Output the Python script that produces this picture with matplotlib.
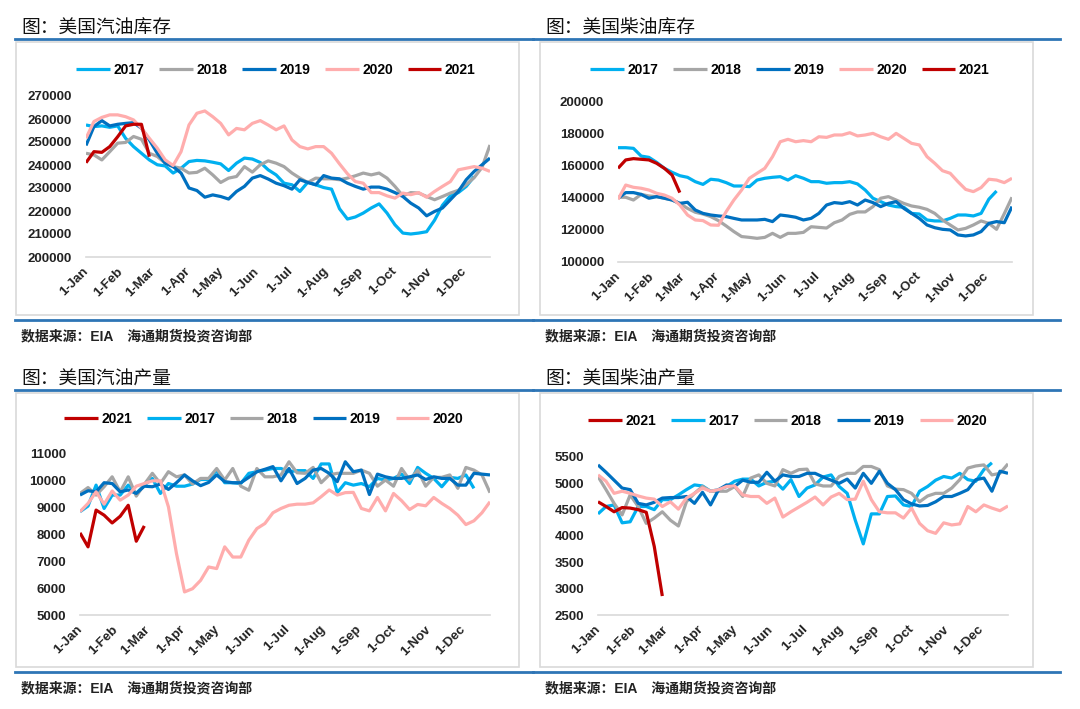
import matplotlib
matplotlib.use("Agg")
import matplotlib.pyplot as plt
from matplotlib.lines import Line2D
from matplotlib.patches import Rectangle

plt.rcParams['font.family'] = ['Liberation Sans', 'Noto Sans CJK SC']

# ---- data (weekly) ----
years = ["2017", "2018", "2019", "2020", "2021"]
month_labels = ["1-Jan", "1-Feb", "1-Mar", "1-Apr", "1-May", "1-Jun",
                "1-Jul", "1-Aug", "1-Sep", "1-Oct", "1-Nov", "1-Dec"]
month_start_day = [0, 31, 59, 90, 120, 151, 181, 212, 243, 273, 304, 334]

gas_stock_2017 = [257400, 256700, 257000, 256400, 257000, 251600, 248000, 245100, 242200, 240100,
                  239600, 236500, 238600, 241500, 242000, 241800, 241200, 240500, 237600, 240800,
                  243000, 242600, 241100, 237900, 235700, 232100, 231400, 228500, 232500, 231400,
                  230200, 229500, 221000, 216500, 217400, 219100, 221300, 223100, 219100, 214000,
                  210400, 210000, 210400, 211000, 216000, 222500, 226600, 228000, 230700, 235000]
gas_stock_2018 = [245100, 244400, 242200, 245800, 249500, 249800, 252400, 251200, 245100, 243700,
                  240800, 239300, 238600, 236500, 236800, 238600, 235700, 232400, 234300, 235000,
                  239300, 236900, 240100, 241800, 240800, 239300, 236500, 234300, 232400, 234300,
                  234000, 234000, 233600, 234300, 235300, 236500, 235700, 236500, 234300, 230700,
                  226600, 228000, 227800, 226300, 224900, 226300, 227800, 229000, 231500, 234500,
                  239000, 248700]
gas_stock_2019 = [248500, 256700, 259300, 257000, 257700, 258100, 258400, 256000, 250900, 245100,
                  240800, 239300, 236500, 230000, 228900, 226000, 227000, 226300, 225200, 228500,
                  230700, 234300, 235400, 233900, 232100, 231000, 229500, 233600, 232400, 231400,
                  235400, 234300, 234000, 232100, 230700, 229500, 230400, 230400, 229500, 228000,
                  226300, 223400, 221300, 217900, 219800, 221300, 224900, 228500, 233600, 237200,
                  240100, 243000]
gas_stock_2020 = [251600, 258900, 260700, 261800, 261800, 261000, 259600, 256000, 251600, 247300,
                  242200, 239800, 245800, 257400, 262500, 263500, 261000, 258100, 253100, 255900,
                  255300, 258100, 259300, 257400, 255300, 257000, 250900, 248000, 247000, 248000,
                  248000, 245100, 240500, 236200, 232800, 232100, 228000, 228000, 226600, 225600,
                  227800, 227100, 228000, 226000, 228500, 230700, 232800, 237900, 238600, 239300,
                  238600, 237200]
gas_stock_2021 = [241000, 245800, 245500, 248000, 252300, 257000, 257700, 257700, 243600]

dsl_stock_2017 = [171000, 171000, 170600, 165800, 165000, 161900, 158200, 155700, 153600, 152600,
                  149900, 148200, 151400, 150900, 149300, 147200, 147200, 146800, 150900, 152000,
                  152600, 153000, 150900, 153600, 152000, 149900, 149900, 148900, 149300, 149300,
                  149900, 148500, 144700, 139600, 137500, 135400, 134400, 134000, 130200, 129800,
                  126100, 125500, 125500, 127100, 129200, 129200, 128600, 130200, 139000, 144100]
dsl_stock_2018 = [140200, 140200, 138500, 142000, 141000, 140600, 139600, 138500, 136400, 133300,
                  130900, 129800, 128200, 125700, 122400, 118900, 115800, 115300, 114700, 115300,
                  117800, 115300, 117800, 117800, 118400, 121900, 121500, 121100, 124400, 126100,
                  129600, 131100, 131100, 134400, 139600, 140600, 138500, 136400, 134800, 134000,
                  132700, 130200, 126100, 123000, 119900, 120900, 123000, 125500, 124000, 120300,
                  130000, 140200]
dsl_stock_2019 = [139600, 143100, 143100, 142000, 139600, 140600, 139600, 138500, 136400, 137100,
                  132300, 130200, 129200, 128600, 128200, 127100, 126100, 126100, 126100, 126500,
                  125100, 129200, 128600, 127800, 126100, 127100, 130200, 135400, 136900, 136400,
                  137500, 135400, 138500, 136900, 134400, 136400, 137500, 133300, 130200, 127100,
                  123000, 121300, 120300, 119900, 116800, 116200, 116800, 118900, 124000, 125100,
                  124400, 134400]
dsl_stock_2020 = [138900, 147800, 146400, 145800, 144700, 142700, 141600, 139600, 135400, 129200,
                  126100, 125700, 123000, 122800, 131300, 138500, 144700, 152000, 155100, 158200,
                  165400, 174700, 176200, 174700, 175400, 174700, 177800, 177400, 178900, 178900,
                  180300, 178300, 178900, 179900, 177800, 176200, 179900, 176800, 173700, 172700,
                  165400, 161300, 156700, 155100, 149900, 145100, 143700, 146200, 151400, 150900,
                  149300, 152000]
dsl_stock_2021 = [158200, 163400, 164200, 163800, 163400, 161300, 158200, 154000, 143100]

gas_prod_2017 = [8850, 9060, 9840, 8970, 9470, 9470, 9840, 9530, 9840, 10090,
                 9530, 9900, 9800, 9800, 9880, 10050, 10050, 10400, 9930, 9930,
                 9900, 10280, 10340, 10400, 10460, 10460, 10340, 10380, 10380, 10090,
                 10630, 10630, 9560, 9930, 9840, 9900, 9780, 10090, 10030, 10090,
                 10250, 9900, 10500, 10280, 10090, 9780, 10130, 10090, 10220, 9720]
gas_prod_2018 = [9530, 9750, 9470, 9780, 10150, 9590, 10150, 9430, 9870, 10280,
                 9900, 10340, 10150, 10220, 9880, 10090, 10090, 10460, 10030, 10460,
                 9800, 9650, 10460, 10150, 10150, 10220, 10710, 10300, 10280, 10500,
                 9930, 10220, 10280, 10280, 10280, 10400, 10280, 9800, 10030, 9800,
                 10460, 10030, 10400, 9800, 10130, 10130, 10220, 9720, 10500, 10400,
                 10220, 9560]
gas_prod_2019 = [9470, 9630, 9590, 9930, 9900, 9590, 9660, 9530, 9800, 9780,
                 9880, 9680, 9930, 10220, 10000, 9820, 9940, 10220, 9970, 9930,
                 9930, 10130, 10340, 10430, 10530, 10000, 10460, 9900, 10090, 10400,
                 10460, 10280, 9970, 10710, 10340, 10400, 9490, 10250, 10150, 10090,
                 10090, 10150, 10220, 10050, 10150, 10090, 10090, 9840, 9840, 10280,
                 10250, 10220]
gas_prod_2020 = [8850, 9160, 9590, 9130, 9620, 9280, 9470, 9800, 9900, 10000,
                 10000, 9030, 7290, 5860, 5980, 6290, 6790, 6730, 7540, 7160,
                 7160, 7790, 8220, 8410, 8810, 8970, 9090, 9130, 9130, 9180,
                 9410, 9660, 9470, 9560, 9570, 8970, 8880, 9380, 8880, 9530,
                 9260, 8930, 9120, 9070, 9380, 9160, 8970, 8720, 8370, 8510,
                 8810, 9220]
gas_prod_2021 = [8060, 7540, 8910, 8720, 8430, 8680, 9090, 7750, 8320]

dsl_prod_2017 = [4420, 4560, 4590, 4250, 4270, 4560, 4560, 4500, 4690, 4690,
                 4780, 4880, 4970, 4950, 4850, 4880, 4940, 5040, 5080, 5080,
                 4950, 5020, 5040, 4890, 5070, 4750, 4910, 4970, 5120, 5160,
                 4940, 4810, 4300, 3850, 4420, 4420, 4750, 4760, 4590, 4560,
                 4850, 4940, 5060, 5130, 5100, 5190, 5070, 5040, 5260, 5390]
dsl_prod_2018 = [5130, 4880, 4620, 4400, 4780, 4560, 4240, 4340, 4460, 4300,
                 4190, 4650, 4810, 4940, 4850, 4850, 4850, 4940, 4750, 5100,
                 5160, 5000, 4950, 5260, 5190, 5260, 5270, 4990, 4950, 4950,
                 5130, 5190, 5190, 5320, 5320, 5260, 4950, 4890, 4880, 4810,
                 4650, 4760, 4810, 4810, 4910, 5070, 5290, 5330, 5350, 5160,
                 5190, 5370]
dsl_prod_2019 = [5350, 5210, 5060, 4910, 4880, 4620, 4590, 4640, 4720, 4730,
                 4730, 4750, 4620, 4830, 4590, 4880, 4970, 4940, 5060, 5020,
                 5020, 5210, 5040, 5160, 5130, 5130, 5190, 5190, 5120, 5060,
                 5000, 5080, 4910, 5190, 5000, 5230, 5000, 4880, 4690, 4610,
                 4570, 4580, 4650, 4750, 4750, 4810, 4880, 5070, 5100, 4850,
                 5230, 5190]
dsl_prod_2020 = [5160, 5040, 4810, 4850, 4810, 4760, 4720, 4700, 4560, 4650,
                 4510, 4720, 4810, 4910, 4850, 4880, 4940, 4950, 4780, 4750,
                 4750, 4620, 4720, 4360, 4460, 4550, 4640, 4740, 4590, 4740,
                 4810, 4690, 4700, 5040, 4690, 4460, 4440, 4440, 4340, 4530,
                 4240, 4100, 4050, 4250, 4210, 4230, 4560, 4460, 4590, 4530,
                 4480, 4570]
dsl_prod_2021 = [4650, 4560, 4460, 4540, 4530, 4500, 4450, 3800, 2860]

colors = {"2017": "#00B0F0", "2018": "#A6A6A6", "2019": "#0070C0",
          "2020": "#FFADAD", "2021": "#C00000"}

W, H = 1080, 709
fig = plt.figure(figsize=(W / 100, H / 100), dpi=100)
fx = lambda x: x / W
fy = lambda y: 1 - y / H
RULE = "#2E75B6"
SRC = "数据来源：EIA　海通期货投资咨询部"


def panel(title, series, legend_order, ylim, ystep, box, axbox, lx, ly, x0, x1):
    # box, title, rules, source
    bx0, by0, bx1, by1 = box
    fig.add_artist(Rectangle((fx(bx0), fy(by1)), fx(bx1) - fx(bx0), fy(by0) - fy(by1),
                             transform=fig.transFigure, fc="white", ec="#D9D9D9", lw=1.2,
                             zorder=-5))
    fig.add_artist(Line2D([fx(x0), fx(x1)], [fy(by0 - 3)] * 2, color=RULE, lw=2))
    fig.add_artist(Line2D([fx(x0), fx(x1)], [fy(by1 + 5)] * 2, color=RULE, lw=2))
    fig.text(fx(bx0 + 5), fy(by0 - 13), title, fontsize=13.5, color="#111111", va="center",
             fontweight="medium")
    fig.text(fx(bx0 + 5), fy(by1 + 21), SRC, fontsize=10, color="#222222",
             va="center", fontweight="bold")

    ax0, ay0, ax1, ay1 = axbox
    ax = fig.add_axes([fx(ax0), fy(ay1), fx(ax1) - fx(ax0), fy(ay0) - fy(ay1)])
    ax.set_zorder(5)
    for yr in years:
        vals = series[yr]
        ax.plot(range(len(vals)), vals, color=colors[yr], lw=2.3, label=yr,
                solid_joinstyle="round", solid_capstyle="butt")
    ax.set_xlim(0, 51)
    ax.set_ylim(*ylim)
    ax.set_yticks(range(ylim[0], ylim[1] + 1, ystep))
    ax.set_xticks([d / 7 for d in month_start_day])
    ax.set_xticklabels(month_labels, rotation=45, ha="right", va="center",
                       rotation_mode="anchor", fontsize=9.5, fontweight="bold", color="#222222")
    for t in ax.get_yticklabels():
        t.set_fontsize(9.5); t.set_fontweight("bold"); t.set_color("#222222")
    ax.tick_params(length=0)
    ax.tick_params(axis="y", pad=10)
    ax.tick_params(axis="x", pad=9)
    for s in ("top", "right", "left"):
        ax.spines[s].set_visible(False)
    ax.spines["bottom"].set_color("#D9D9D9")
    ax.spines["bottom"].set_linewidth(1.2)
    ax.patch.set_visible(False)

    h, l = ax.get_legend_handles_labels()
    hd = dict(zip(l, h))
    fig.legend([hd[y] for y in legend_order], legend_order, loc="center",
               bbox_to_anchor=(fx(lx), fy(ly)), ncol=5, frameon=False,
               handlelength=2.4, handletextpad=0.25, columnspacing=1.1,
               prop={"size": 10, "weight": "bold"})
    return ax


order_a = ["2017", "2018", "2019", "2020", "2021"]
order_b = ["2021", "2017", "2018", "2019", "2020"]

panel("图：美国汽油库存",
      {"2017": gas_stock_2017, "2018": gas_stock_2018, "2019": gas_stock_2019,
       "2020": gas_stock_2020, "2021": gas_stock_2021},
      order_a, (200000, 270000), 10000,
      (16, 42, 519, 315), (86, 96, 490, 257), 276, 70, 15, 533)

panel("图：美国柴油库存",
      {"2017": dsl_stock_2017, "2018": dsl_stock_2018, "2019": dsl_stock_2019,
       "2020": dsl_stock_2020, "2021": dsl_stock_2021},
      order_a, (100000, 200000), 20000,
      (540, 42, 1033, 315), (618, 101, 1012, 262), 790, 70, 533, 1060)

panel("图：美国汽油产量",
      {"2017": gas_prod_2017, "2018": gas_prod_2018, "2019": gas_prod_2019,
       "2020": gas_prod_2020, "2021": gas_prod_2021},
      order_b, (5000, 11000), 1000,
      (16, 393, 519, 667), (80, 454, 490, 615), 264, 419, 15, 533)

panel("图：美国柴油产量",
      {"2017": dsl_prod_2017, "2018": dsl_prod_2018, "2019": dsl_prod_2019,
       "2020": dsl_prod_2020, "2021": dsl_prod_2021},
      order_b, (2500, 5500), 500,
      (540, 393, 1033, 667), (598, 457, 1008, 615), 788, 421, 533, 1060)

fig.savefig("out.png", dpi=100, facecolor="white")
